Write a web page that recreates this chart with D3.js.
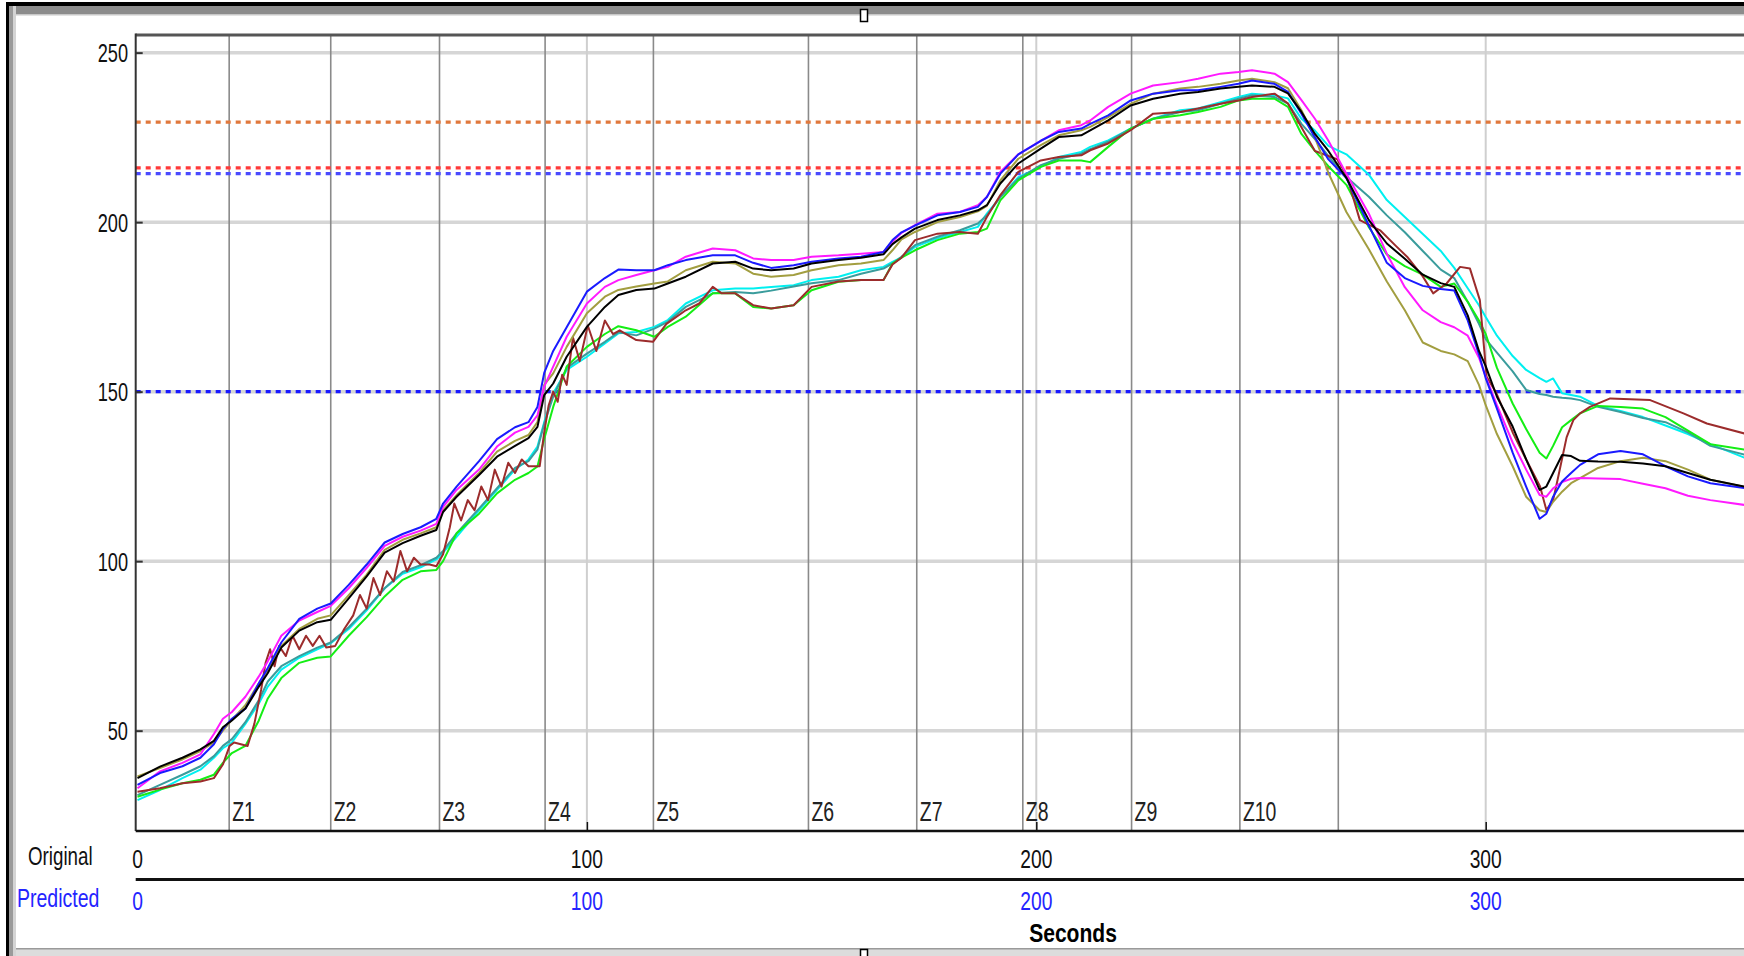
<!DOCTYPE html>
<html>
<head>
<meta charset="utf-8">
<script src="https://cdn.jsdelivr.net/npm/d3@7/dist/d3.min.js"></script>
<style>
  html, body { margin: 0; padding: 0; background: #fff; }
  svg { display: block; }
  text { font-family: "Liberation Sans", Arial, sans-serif; }
</style>
</head>
<body>
<svg id="chart" width="1744" height="956"></svg>
<script>
// ---------------- data ----------------
const times = [0,5,10,14,17,19,21,24,27,29,
  32,36,40,43,47,51,55,59,63,66.5,
  68,71,76,80,84,87,89,90.5,92.5,95.5,
  100,104,107,111,115,118,122,128,133,137,
  141,146,150,156,161,166,168,170,173,178,
  183,187,189,192,196,201,205,210,212,216,
  221,226,232,236,241,245,248,253,256,259,
  262,265,269,274,278,282,286,290,293,296,
  298.5,300,302.5,306,309,312,313.5,315,317,319,
  321,325,330,335,340,345,350,358];

const blueVals = [34,37.5,39.5,42,46,50.5,53.5,56.5,64,68.5,
  76,83,86,87.5,93,99,105.5,108,110,112.5,
  117,122,129.5,136,139.5,141,145.5,155.5,162,169,
  179.5,183.5,186,185.8,185.8,187.3,188.8,190.2,190.2,188,
  186.5,187.3,188.3,189.3,189.8,191.2,194.7,197,199,202,
  203,204.5,207.4,214.3,220,224,226.6,227.6,229,231.5,
  235.9,237.9,238.9,238.9,239.9,240.8,241.8,240.8,238.4,232,
  225,218.5,213,199,188,183.5,181.2,180.3,179.8,171,
  161,154,145,132,122,112.5,114,119,123.5,126,
  128.4,131.5,132.5,131.5,128,125,123,121.5];

const magentaVals = [33,38,40.5,43,49,53.5,55.5,60,66,70.5,
  78,82.5,85,86.8,92,98,104.5,107.2,109,111,
  116,121,127,133.8,137.9,139.6,143,151.5,157.4,166.2,
  176,180.9,182.9,184.4,185.8,186.8,189.8,192.2,191.7,189.3,
  188.8,188.8,189.8,190.2,190.7,191.2,194.3,196.8,199.1,202.5,
  203,205,207.4,214.8,220,224,227.1,228.6,230,234,
  237.9,240.3,241.3,242.3,243.8,244.3,244.8,243.8,241.3,236,
  230.5,224,214.3,202.5,190.7,180.8,174,170.5,169,166.5,
  160,154.4,146,135,127,119.5,119,121.5,123.3,124.3,
  124.5,124.4,124.2,122.8,121.5,119.3,118,116.5];

const blackVals = [36,39.4,42,44.5,47,51,53,56.5,63,67,
  74.5,79.5,82,82.7,89,95.5,102.5,105.3,107.5,109.2,
  114.5,119,125.4,130.8,134,136.3,139.6,149,152.4,160.3,
  169.1,175,178.5,180,180.4,181.9,183.9,187.8,188.3,186.3,
  185.8,186.3,187.8,188.8,189.5,190.5,193.5,195.5,198.1,200.6,
  202,203.5,205,211.4,217.3,221.7,225.1,225.6,227.1,230,
  234.4,236.4,237.9,238.4,239.4,239.9,240.3,239.9,238,232.5,
  226,221,213,200.6,193.7,189.2,184.5,182,180.9,172.5,
  162,157.5,148.5,139.7,130,121,122,126,131.3,131,
  129.6,129.4,129.3,128.8,128,126,124,121.9];

const oliveVals = [36.5,39,41.5,44,46.5,50,53.2,57.5,64,68,
  75,80,83,84,90,96,103.3,106.3,108.2,110,
  115,119.5,126,132.3,135.5,137.2,141,152,155.4,163.2,
  173.1,178,180,181,181.9,182.5,185.8,188.3,187.8,184.8,
  183.9,184.4,185.8,187.3,187.8,188.8,191.7,194.9,197.1,200,
  201.5,203.2,204.8,212.3,218.7,222.7,225.6,227.1,228.1,231,
  234.9,237.9,239.4,239.9,240.8,241.8,242.3,241.3,239.5,233,
  225,214.5,203,192,182.5,174,164.5,162,161,159,
  152,146,137.5,128,119,115,114.5,117.5,120.5,123,
  124.5,127.5,129.5,130.5,129.5,127,124,121.8];

const greenVals = [30.5,32.6,34.5,35.5,37,40.5,43.4,45.5,53,59.5,
  65.5,70,71.5,71.9,78,83.5,89.6,94.5,97,97.4,
  100,108.2,114,120,124,126,127.9,136,145.5,157.4,
  163.2,167,169.3,168.1,166.2,169.1,172.1,179,179,175,
  174.5,175.5,179.9,182.4,182.9,182.9,187.8,189.5,191.7,194.7,
  196.6,197.1,198.1,206.4,212.3,216.3,218.2,218.2,217.7,222.2,
  227.6,230.5,231.5,232.5,234,235.9,236.4,236.4,234,226,
  221,216.5,211,198.5,190.5,187,184.5,180.9,181.9,176.5,
  171,167,157,146.5,139,132,130.3,134,139.5,141.6,
  143.6,145.8,145.5,145,142.5,138.5,134.5,132.8];

const cyanVals = [29.5,32.5,36,38.5,42,44.8,46.5,52,58,63,
  68,71.5,74,75.8,80,85.5,92,96.3,98.2,100.5,
  102.5,107.2,115,121,127,130,133.8,141,149.5,156.4,
  160.3,164.2,167.2,167.6,169.1,171.1,176,179.9,180.4,180.4,
  180.9,181.4,182.9,183.9,185.8,186.8,188.3,189.6,192.7,195.2,
  197.1,198.6,202.5,207.4,213.3,216.3,219.2,220.7,222.2,224.1,
  227.6,230.5,233,233.5,235.4,236.9,237.9,237.4,236.5,230.5,
  227,222.5,220,214,206.5,201.5,196.5,191.5,186.5,180.5,
  175.5,172,166.5,160.5,156.4,154,152.9,153.9,149.5,149,
  148.5,145.8,144.3,142.5,140,137.5,134.5,130.3];

const tealVals = [31,34,37,39.5,42.5,45.5,47.5,52.5,59,64.5,
  69,72,74.5,76,80.5,86,92,96.8,98.8,101,
  103,108.2,115.5,121.5,127.5,129.5,133,140.5,148.5,157,
  161.2,164.7,167.5,166.6,168.6,170.6,175,179,179.4,179,
  179.8,181,182,182.9,184.8,186.3,187.8,189.8,193.2,195.7,
  197.6,199.6,202,207.4,212.8,216.8,218.7,220.2,221.5,223.7,
  227.6,230.5,232.5,233,234.9,236.4,237.4,236.9,235,229,
  224.5,219.5,213.3,207.5,202,197,191.5,186,183.5,176.5,
  170,165.5,161.5,156,150.5,149.3,149,148.5,148.2,148,
  147.5,145.5,144,142.2,141,138,134,131.3];

const brownTimes = [0,5,10,14,17,19,20.5,21.5,23,24.5,
  26,27.5,28.5,29.5,30.5,31.5,33,34.5,36,37.5,
  39,40.5,42,44,46,48,49.5,51,52.5,54,
  55.5,57,58.5,60,61.5,63,65,66.5,68,69.5,
  70.5,72,73.5,75,76.5,78,79.5,81,82.5,84,
  85.5,87,89.5,90.5,91.5,92.5,93.5,94.5,95.5,96.9,
  98.4,100.2,102.1,104,105.8,107.3,111,114.7,117.7,122,
  125,128,130,133,137,141,146,150,156,161,
  166,168,170,173,178,183,187,189,192,196,
  201,205,210,212,216,221,226,232,236,241,
  245,248,253,256,259,262,265,267,269,272,
  276.5,280,282.5,286,288.3,291.3,294.3,296.5,298.7,300.2,
  302.4,306.1,309,312.1,313.5,315,316,318,319.5,321,
  323.2,327.7,336.6,344,349.2,358];

const brownVals = [32,33,34.5,35,36,40,45.5,46.5,46,45.5,
  52,62,70,74,69,75,72,78,74,78,
  75,78,74.5,75,80,84,90,86,95,90,
  97,94,103,97,101,99,99,98.5,102,110,
  117,112,118,115,122,118,127,122,129,126,
  130,128,128,138,146,150,147,155,152,166,
  159,169.5,162,171,167,168.1,165.2,164.7,170,174,
  176,180.9,179,179,175.5,174.5,175.5,180.9,182.5,182.9,
  182.9,187.5,189.5,194.7,196.6,197.1,196.6,201.5,208,214.8,
  218.2,219.2,219.7,221.2,223.2,227.1,232,232.5,233.5,234.9,
  235.9,236.9,237.9,235,228,221,219.5,218.5,214,200.6,
  197.6,193,189.8,184,179,181.9,186.8,186.3,177,154.4,
  149.5,137.7,130,122,115.1,118,124,136.5,141.6,143.6,
  145.5,148,147.5,143.6,140.6,137.5];

const zoneTimes  = [20.4, 43.0, 67.2, 90.7, 114.8, 149.3, 173.4, 197.0, 221.2, 245.3, 267.2];
const zoneLabels = ["Z1","Z2","Z3","Z4","Z5","Z6","Z7","Z8","Z9","Z10",""];

const thresholdValues = [229.5, 216.0, 214.3, 150.0];
const thresholdColors = ["#e0783c", "#ff3a3a", "#4a4aff", "#1a1aff"];

const yTicks = [50, 100, 150, 200, 250];
const xTicks = [0, 100, 200, 300];
const xGrid  = [100, 200, 300];

// ---------------- layout ----------------
const W = 1744, H = 956;
const plotL = 135.7, plotT = 35, plotB = 831, plotR = 1760;

const x = d3.scaleLinear().domain([-0.4, (plotR - 137.5) / 4.494]).range([plotL, plotR]);
const y = d3.scaleLinear().domain([20.4, 255.2]).range([plotB, plotT]);

const svg = d3.select("#chart");

// condensed text helper (tall narrow look like the original)
function ntext(sel, px, py, str, o) {
  return sel.append("text")
    .attr("transform", `translate(${px},${py}) scale(${o.sx},1)`)
    .attr("x", 0).attr("y", 0)
    .attr("text-anchor", o.anchor || "start")
    .attr("dominant-baseline", o.baseline || "auto")
    .attr("font-size", o.size)
    .attr("font-weight", o.weight || "normal")
    .attr("fill", o.fill || "#111")
    .text(str);
}

// window chrome
svg.append("rect").attr("x", 0).attr("y", 0).attr("width", W).attr("height", H).attr("fill", "#fff");
svg.append("rect").attr("x", 6).attr("y", 2).attr("width", W).attr("height", 4).attr("fill", "#000");
svg.append("rect").attr("x", 9).attr("y", 6).attr("width", W).attr("height", 9).attr("fill", "#8c8c8c");
svg.append("rect").attr("x", 9).attr("y", 14).attr("width", W).attr("height", 1.5).attr("fill", "#c8c8c8");
svg.append("rect").attr("x", 6).attr("y", 2).attr("width", 3).attr("height", H).attr("fill", "#000");
svg.append("rect").attr("x", 9).attr("y", 6).attr("width", 4).attr("height", H).attr("fill", "#9a9a9a");
svg.append("rect").attr("x", 13).attr("y", 6).attr("width", 3).attr("height", H).attr("fill", "#d4d4d4");
svg.append("rect").attr("x", 16).attr("y", 948).attr("width", W).attr("height", 8).attr("fill", "#dcdcdc");
svg.append("rect").attr("x", 16).attr("y", 948).attr("width", W).attr("height", 1.5).attr("fill", "#9a9a9a");
// handles
svg.append("rect").attr("x", 860.5).attr("y", 9.5).attr("width", 7).attr("height", 12).attr("fill", "#fff").attr("stroke", "#000").attr("stroke-width", 1.5);
svg.append("rect").attr("x", 860.5).attr("y", 949.5).attr("width", 7).attr("height", 12).attr("fill", "#fff").attr("stroke", "#000").attr("stroke-width", 1.5);

// clip
svg.append("clipPath").attr("id", "plotclip").append("rect")
  .attr("x", plotL).attr("y", plotT).attr("width", plotR - plotL).attr("height", plotB - plotT);

const plot = svg.append("g").attr("clip-path", "url(#plotclip)");

// horizontal gridlines
plot.selectAll("line.hgrid").data(yTicks).join("line")
  .attr("class", "hgrid")
  .attr("x1", plotL).attr("x2", plotR)
  .attr("y1", d => y(d)).attr("y2", d => y(d))
  .attr("stroke", "#d6d6d6").attr("stroke-width", 3.5);

// light vertical gridlines at 100s
plot.selectAll("line.vgrid").data(xGrid).join("line")
  .attr("class", "vgrid")
  .attr("x1", d => x(d)).attr("x2", d => x(d))
  .attr("y1", plotT).attr("y2", plotB)
  .attr("stroke", "#cfcfcf").attr("stroke-width", 2);

// zone lines
plot.selectAll("line.zone").data(zoneTimes).join("line")
  .attr("class", "zone")
  .attr("x1", d => x(d)).attr("x2", d => x(d))
  .attr("y1", plotT).attr("y2", plotB)
  .attr("stroke", "#8a8a8a").attr("stroke-width", 1.6);

// threshold dotted lines
plot.selectAll("line.thr").data(thresholdValues).join("line")
  .attr("class", "thr")
  .attr("x1", plotL).attr("x2", plotR)
  .attr("y1", d => y(d)).attr("y2", d => y(d))
  .attr("stroke", (d, i) => thresholdColors[i])
  .attr("stroke-width", 3.2)
  .attr("stroke-dasharray", "5,5");

// series
const series = [
  { name: "cyan",    t: times, v: cyanVals,    color: "#00f0f0" },
  { name: "teal",    t: times, v: tealVals,    color: "#3a9c9c" },
  { name: "green",   t: times, v: greenVals,   color: "#14ee14" },
  { name: "brown",   t: brownTimes, v: brownVals, color: "#9c2c2c" },
  { name: "olive",   t: times, v: oliveVals,   color: "#a29e40" },
  { name: "magenta", t: times, v: magentaVals, color: "#ff1aff" },
  { name: "blue",    t: times, v: blueVals,    color: "#1a1aff" },
  { name: "black",   t: times, v: blackVals,   color: "#000000" }
];

const line = d3.line().x(d => x(d[0])).y(d => y(d[1])).curve(d3.curveLinear);

plot.selectAll("path.series").data(series).join("path")
  .attr("class", "series")
  .attr("d", s => line(s.t.map((t, i) => [t, s.v[i]])))
  .attr("fill", "none")
  .attr("stroke", s => s.color)
  .attr("stroke-width", 2)
  .attr("stroke-linejoin", "round");

// zone labels
zoneTimes.forEach((t, i) => {
  if (zoneLabels[i]) ntext(svg, x(t) + 3, 821, zoneLabels[i], { size: 27, sx: 0.72, fill: "#222" });
});

// plot frame: top and left
svg.append("line").attr("x1", plotL).attr("x2", W).attr("y1", plotT).attr("y2", plotT)
  .attr("stroke", "#555").attr("stroke-width", 3);
svg.append("line").attr("x1", plotL).attr("x2", plotL).attr("y1", plotT - 1.5).attr("y2", plotB)
  .attr("stroke", "#333").attr("stroke-width", 2);

// y axis ticks (inside) and labels
const yAxis = d3.axisLeft(y).tickValues(yTicks).tickSizeInner(-7).tickSizeOuter(0).tickFormat("");
const yg = svg.append("g").attr("transform", `translate(${plotL},0)`).call(yAxis);
yg.select(".domain").remove();
yg.selectAll(".tick line").attr("stroke", "#333").attr("stroke-width", 2);
yTicks.forEach(v => ntext(svg, 128, y(v) + 1, String(v), { anchor: "end", baseline: "central", size: 26, sx: 0.7 }));

// bottom axis (Original)
svg.append("line").attr("x1", plotL).attr("x2", W).attr("y1", plotB).attr("y2", plotB)
  .attr("stroke", "#111").attr("stroke-width", 2.5);
const xAxis = d3.axisBottom(x).tickValues(xGrid).tickSizeInner(-9).tickSizeOuter(0).tickFormat("");
const xg = svg.append("g").attr("transform", `translate(0,${plotB})`).call(xAxis);
xg.select(".domain").remove();
xg.selectAll(".tick line").attr("stroke", "#111").attr("stroke-width", 1.5);

xTicks.forEach(v => ntext(svg, x(v), 868, String(v), { anchor: "middle", size: 26, sx: 0.74, fill: "#111" }));

// separator line
svg.append("line").attr("x1", plotL).attr("x2", W).attr("y1", 879.5).attr("y2", 879.5)
  .attr("stroke", "#111").attr("stroke-width", 3);

xTicks.forEach(v => ntext(svg, x(v), 910, String(v), { anchor: "middle", size: 26, sx: 0.74, fill: "#2424ff" }));

ntext(svg, 28, 865, "Original", { size: 25, sx: 0.75, fill: "#111" });
ntext(svg, 17, 907, "Predicted", { size: 25, sx: 0.78, fill: "#2424ff" });
ntext(svg, 1073, 942, "Seconds", { anchor: "middle", size: 26, sx: 0.81, weight: "bold", fill: "#000" });
</script>
</body>
</html>
